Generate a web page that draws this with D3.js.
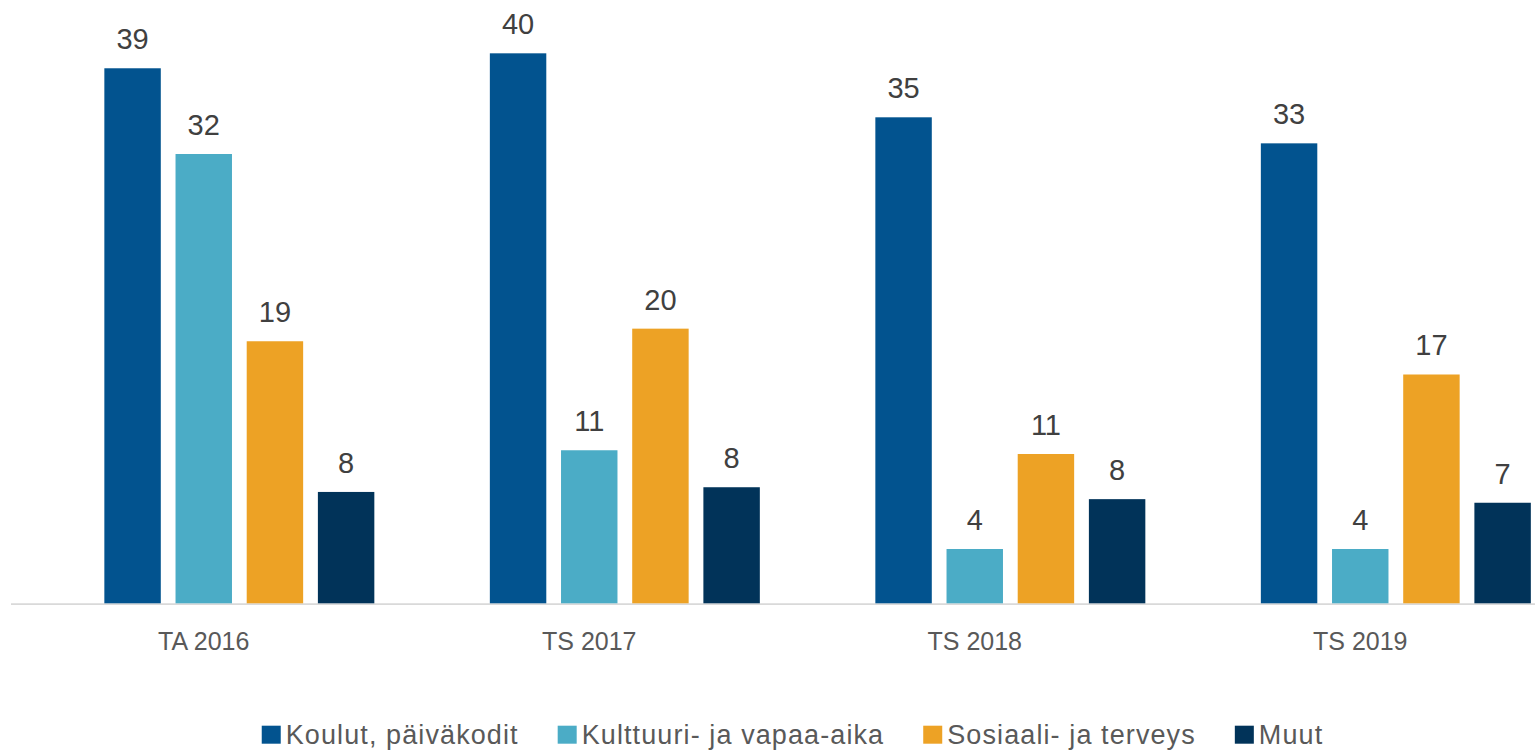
<!DOCTYPE html>
<html>
<head>
<meta charset="utf-8">
<script src="https://cdn.jsdelivr.net/npm/d3@7"></script>
<style>
  html, body { margin: 0; padding: 0; background: #ffffff; }
  svg { display: block; }
</style>
</head>
<body>
<svg id="chart" width="1535" height="753"></svg>
<script>
// ---- data ----
const categories = ["TA 2016", "TS 2017", "TS 2018", "TS 2019"];
const seriesNames = ["Koulut, päiväkodit", "Kulttuuri- ja vapaa-aika", "Sosiaali- ja terveys", "Muut"];
const koulut     = [38.63, 39.71, 35.09, 33.21];
const kulttuuri  = [32.44, 11.05, 3.92, 3.92];
const sosiaali   = [18.92, 19.83, 10.78, 16.52];
const muut       = [8.04, 8.38, 7.52, 7.26];
const seriesColors = ["#02538f", "#4bacc6", "#eda225", "#013359"];

const seriesValues = [koulut, kulttuuri, sosiaali, muut];

// ---- layout ----
const svg = d3.select("#chart");
const baseY = 603.3;
const fontFam = "'Liberation Sans', Arial, sans-serif";

const x0 = d3.scaleBand()
  .domain(categories)
  .range([11, 1553])
  .paddingInner(0.115)
  .paddingOuter(0.0575);

// five slots per category; the first slot is left empty as in the original
const slots = ["", ...seriesNames];
const x1 = d3.scaleBand()
  .domain(slots)
  .range([0, x0.bandwidth()])
  .paddingInner(0.207)
  .paddingOuter(0);

const y = d3.scaleLinear().domain([0, 40]).range([baseY, baseY - 554]);

const fmt = d3.format(".0f");

// flat data
const data = [];
categories.forEach((c, ci) => {
  seriesNames.forEach((s, si) => {
    data.push({ cat: c, series: s, si: si, value: seriesValues[si][ci] });
  });
});

// axis line
const xAxis = d3.axisBottom(x0).tickSize(0).tickPadding(0).tickFormat("");
const axisG = svg.append("g").attr("transform", `translate(0,${baseY + 0.8})`).call(xAxis);
axisG.select(".domain").attr("d", "M11,0H1535").attr("stroke", "#d9d9d9").attr("stroke-width", 1.6);

// bars
svg.append("g").selectAll("rect")
  .data(data)
  .join("rect")
  .attr("x", d => x0(d.cat) + x1(d.series))
  .attr("width", x1.bandwidth())
  .attr("y", d => y(d.value))
  .attr("height", d => baseY - y(d.value))
  .attr("fill", d => seriesColors[d.si]);

// value labels
svg.append("g").selectAll("text")
  .data(data)
  .join("text")
  .attr("x", d => x0(d.cat) + x1(d.series) + x1.bandwidth() / 2)
  .attr("y", d => y(d.value) - 19)
  .attr("text-anchor", "middle")
  .attr("font-family", fontFam)
  .attr("font-size", 29)
  .attr("fill", "#404040")
  .text(d => fmt(d.value));

// category labels
svg.append("g").selectAll("text")
  .data(categories)
  .join("text")
  .attr("x", d => x0(d) + x0.bandwidth() / 2)
  .attr("y", 650)
  .attr("text-anchor", "middle")
  .attr("font-family", fontFam)
  .attr("font-size", 25)
  .attr("fill", "#595959")
  .text(d => d);

// legend
const legend = svg.append("g");
const items = legend.selectAll("g")
  .data(seriesNames)
  .join("g");
items.append("rect")
  .attr("width", 19).attr("height", 18)
  .attr("y", 725.7)
  .attr("fill", (d, i) => seriesColors[i]);
items.append("text")
  .attr("x", 24)
  .attr("y", 744.3)
  .attr("font-family", fontFam)
  .attr("font-size", 27)
  .attr("letter-spacing", 1.1)
  .attr("fill", "#595959")
  .text(d => d);

let widths = [];
items.each(function () {
  widths.push(24 + d3.select(this).select("text").node().getComputedTextLength());
});
const gap = 39;
const total = d3.sum(widths) + gap * (widths.length - 1);
let cx = 792.5 - total / 2;
items.attr("transform", (d, i) => {
  const t = `translate(${cx},0)`;
  cx += widths[i] + gap;
  return t;
});
</script>
</body>
</html>
